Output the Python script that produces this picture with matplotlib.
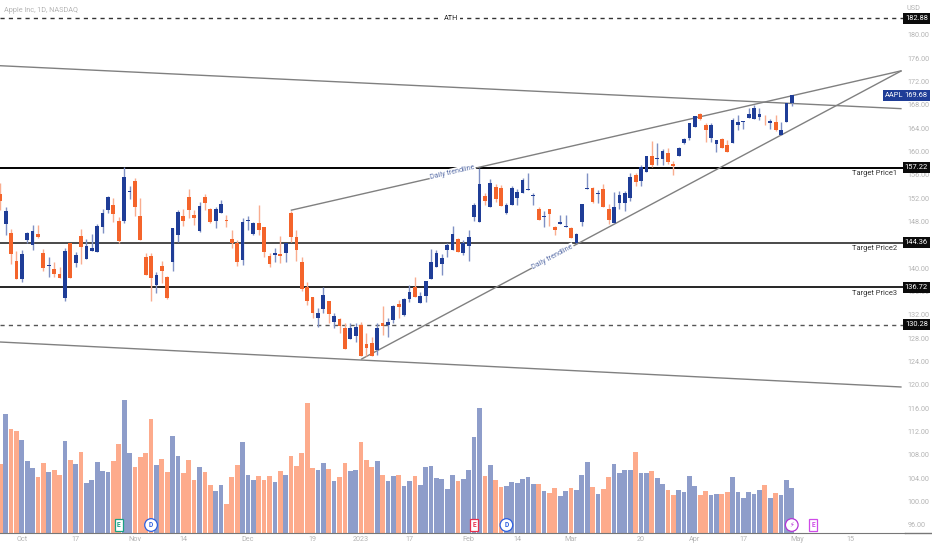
import matplotlib
matplotlib.use("Agg")
import matplotlib.pyplot as plt
from matplotlib.lines import Line2D

plt.rcParams['font.family'] = ['Roboto', 'DejaVu Sans']

# Daily candles
opens = [152.72, 147.52, 146.09, 141.23, 138.08, 144.83, 143.92, 145.8, 142.54, 140.37,
         139.91, 139.06, 134.94, 144.37, 140.94, 145.46, 141.63, 142.94, 142.83, 147.06,
         149.98, 150.89, 148.03, 148.03, 153.12, 155.01, 148.95, 141.97, 142.09, 137.05,
         140.37, 138.43, 141.11, 145.75, 148.95, 152.15, 149.06, 146.38, 152.26, 150.09,
         148.03, 149.41, 148.26, 145.06, 144.26, 141.34, 148.15, 145.8, 147.75, 147.06,
         142.09, 142.26, 142.37, 142.6, 149.41, 145.29, 141.06, 136.71, 135.11, 131.39,
         132.94, 134.37, 130.82, 131.28, 129.68, 127.91, 128.36, 130.25, 126.93, 127.22,
         125.96, 130.54, 130.25, 131.11, 133.85, 131.97, 134.77, 136.71, 133.97, 135.28,
         138.08, 140.26, 140.77, 143.12, 143.12, 144.95, 142.54, 143.8, 148.72, 147.92,
         152.44, 150.55, 153.87, 153.75, 149.41, 150.83, 151.98, 152.95, 153.41, 152.44,
         150.15, 148.78, 150.09, 147.06, 147.58, 147.0, 146.83, 144.37, 147.92, 153.52,
         153.69, 152.66, 153.53, 150.16, 147.7, 151.13, 151.13, 151.99, 155.99, 154.96,
         156.5, 159.19, 158.68, 158.79, 159.76, 157.88, 159.25, 161.42, 162.28, 164.22,
         166.45, 164.62, 162.28, 161.25, 162.16, 161.08, 161.48, 164.51, 165.02, 165.82,
         165.59, 165.94, 164.97, 164.97, 165.08, 162.91, 165.02, 168.28]
closes = [151.58, 149.75, 142.37, 138.08, 142.37, 146.09, 146.32, 145.29, 139.97, 140.49,
          138.94, 138.26, 142.94, 138.26, 142.32, 143.69, 143.8, 143.4, 147.23, 149.46,
          152.26, 149.29, 144.66, 155.58, 153.29, 150.55, 144.89, 138.83, 138.31, 138.83,
          139.46, 134.83, 146.83, 149.63, 148.15, 149.92, 148.66, 150.66, 151.24, 147.86,
          150.09, 151.01, 148.03, 144.26, 141.11, 147.98, 148.32, 147.8, 146.55, 142.83,
          140.77, 142.66, 142.14, 144.26, 145.4, 143.06, 136.43, 134.31, 132.37, 132.25,
          135.4, 132.14, 131.85, 130.02, 126.08, 129.68, 129.96, 124.93, 126.31, 124.99,
          129.68, 130.14, 130.71, 133.51, 133.4, 134.77, 135.91, 135.11, 135.23, 137.86,
          141.06, 142.54, 141.8, 143.92, 145.92, 142.83, 144.32, 145.35, 150.83, 154.49,
          151.58, 154.55, 151.81, 150.72, 150.83, 153.75, 153.12, 155.18, 153.64, 152.61,
          148.32, 148.89, 149.29, 146.55, 147.86, 147.29, 145.17, 145.86, 151.01, 153.69,
          151.41, 152.84, 150.44, 148.33, 150.44, 152.5, 152.9, 155.7, 154.84, 157.36,
          159.19, 157.65, 158.9, 160.16, 158.22, 157.59, 160.62, 162.22, 164.85, 166.11,
          165.54, 163.65, 164.57, 161.94, 160.68, 159.99, 165.48, 165.14, 165.19, 166.4,
          167.54, 166.51, 164.91, 165.25, 163.65, 163.71, 168.28, 169.68]
highs = [154.67, 150.55, 146.66, 143.0, 143.12, 146.26, 147.35, 147.46, 143.23, 141.86,
         141.11, 140.26, 143.52, 144.37, 142.77, 146.66, 144.95, 145.86, 147.58, 150.09,
         152.38, 151.98, 148.83, 157.41, 154.09, 155.41, 151.98, 142.66, 142.54, 139.4,
         141.29, 138.66, 146.83, 149.98, 150.09, 153.52, 149.98, 151.41, 152.72, 150.26,
         150.55, 151.69, 149.12, 146.55, 144.83, 148.66, 148.95, 147.98, 150.83, 147.06,
         142.54, 143.4, 145.52, 144.37, 149.86, 146.55, 141.86, 137.68, 135.11, 133.11,
         136.71, 134.37, 132.25, 131.39, 130.54, 130.54, 130.54, 130.82, 128.94, 128.25,
         130.54, 133.51, 131.39, 133.68, 134.54, 134.94, 137.11, 138.54, 135.97, 137.86,
         143.23, 143.12, 142.43, 144.37, 147.23, 145.12, 144.83, 146.55, 151.12, 157.12,
         152.95, 155.24, 154.38, 154.27, 151.24, 154.09, 153.52, 155.41, 156.27, 152.95,
         150.55, 149.86, 150.09, 147.23, 149.12, 149.12, 147.0, 145.97, 151.01, 156.27,
         153.87, 153.41, 154.39, 150.96, 153.13, 153.3, 153.3, 156.39, 156.39, 157.7,
         159.19, 161.88, 161.42, 160.39, 160.56, 158.45, 160.85, 162.28, 164.97, 166.11,
         166.68, 164.97, 164.97, 161.94, 162.28, 161.99, 165.71, 166.28, 165.19, 167.42,
         168.0, 167.42, 166.28, 165.54, 166.28, 165.14, 168.28, 169.68]
lows = [149.98, 145.63, 140.71, 138.08, 137.68, 144.37, 143.12, 145.12, 139.46, 138.54,
        138.43, 138.26, 134.43, 138.26, 140.26, 140.71, 141.63, 142.94, 142.83, 146.09,
        149.52, 147.98, 144.26, 147.8, 151.92, 149.01, 144.89, 138.83, 134.43, 135.68,
        137.51, 134.65, 139.57, 144.55, 147.23, 148.55, 147.35, 146.26, 149.98, 147.8,
        146.89, 149.41, 147.0, 143.4, 140.37, 140.6, 146.55, 145.69, 145.69, 141.97,
        140.14, 141.06, 140.83, 141.11, 144.55, 141.17, 136.14, 133.68, 131.39, 129.96,
        132.25, 130.54, 129.68, 128.82, 126.08, 127.91, 127.39, 124.93, 124.93, 124.99,
        125.1, 128.54, 128.14, 130.54, 131.39, 131.85, 134.25, 135.11, 133.97, 134.25,
        138.08, 140.14, 138.83, 141.97, 143.12, 142.83, 142.26, 141.29, 148.15, 147.92,
        150.83, 150.55, 151.41, 150.72, 149.29, 150.83, 150.83, 152.95, 153.41, 150.83,
        148.32, 147.12, 147.23, 145.69, 147.58, 147.0, 145.17, 144.26, 147.23, 153.52,
        151.12, 151.12, 150.44, 147.58, 147.7, 150.1, 149.87, 151.59, 154.1, 154.1,
        156.5, 157.42, 157.65, 157.7, 157.88, 155.99, 159.25, 161.31, 161.99, 164.17,
        165.42, 161.71, 161.71, 159.99, 160.56, 159.88, 161.42, 163.71, 163.88, 165.71,
        165.54, 165.42, 164.57, 163.82, 163.54, 162.79, 165.02, 167.82]

# Volume, no scale on the chart so the units are arbitrary
volumes = [207, 357, 312, 305, 280, 215, 195, 168, 210, 184, 190, 173, 276, 218, 208, 243,
           151, 158, 212, 186, 184, 217, 267, 400, 240, 197, 228, 239, 343, 205, 221, 184,
           291, 230, 181, 220, 160, 197, 184, 144, 127, 144, 87, 169, 205, 273, 175, 160,
           170, 160, 172, 153, 186, 173, 231, 202, 241, 390, 196, 190, 210, 192, 157, 169,
           210, 186, 190, 274, 219, 198, 216, 173, 157, 172, 175, 142, 157, 172, 144, 197,
           201, 165, 163, 133, 173, 157, 163, 190, 289, 376, 172, 205, 160, 138, 142, 153,
           151, 163, 168, 146, 146, 125, 120, 136, 111, 125, 136, 130, 173, 214, 138, 117,
           133, 168, 207, 181, 190, 188, 242, 180, 180, 186, 166, 146, 130, 114, 128, 122,
           170, 140, 114, 127, 113, 118, 118, 124, 168, 122, 104, 124, 118, 130, 144, 104,
           120, 113, 160, 136]

price_ticks = list(range(96, 184, 4))
date_pos = [4, 14, 25, 34, 46, 58, 67, 76, 87, 96, 106, 119, 129, 138, 148, 158]
date_labels = ['Oct', '17', 'Nov', '14', 'Dec', '19', '2023', '17', 'Feb', '14',
               'Mar', '20', 'Apr', '17', 'May', '15']

# Trend lines: (x0, x1), (price0, price1)
channel_top = ((-0.06, 167.4), (174.73, 167.36))
channel_low = ((-0.06, 167.4), (127.34, 119.62))
trend_up = ((53.94, 167.4), (149.93, 173.87))
trend_low = ((67.0, 167.4), (124.37, 173.87))

# Horizontal levels
ath = 182.88
targets = [157.22, 144.36, 136.72]
target_names = ['Target Price1', 'Target Price2', 'Target Price3']
support = 130.28
last_price = 169.68

BLUE = '#1f3d97'
ORANGE = '#f4642b'
BLUE_WICK = '#7f90c4'
ORANGE_WICK = '#f9ad8f'
BLUE_VOL = '#8e9dca'
ORANGE_VOL = '#fdab8c'
TICK_GREY = '#b4b4b4'

fig = plt.figure(figsize=(9.32, 5.5), dpi=100)
ax = fig.add_axes([0, 17 / 550, 905 / 932, 533 / 550])
ax_vol = ax.twinx()
ax.set_zorder(ax_vol.get_zorder() + 1)
ax.patch.set_visible(False)

x = list(range(len(closes)))
up = [c >= o for o, c in zip(opens, closes)]

# Volume bars at the bottom
ax_vol.bar(x, volumes, width=0.88, linewidth=0,
           color=[BLUE_VOL if u else ORANGE_VOL for u in up])
ax_vol.set_ylim(0, 1599)
ax_vol.axis('off')

# Levels and trend lines
ax.axhline(ath, color='#333333', lw=1, ls=(0, (3, 3)), zorder=1)
ax.axhline(targets[0], color='black', lw=1.4, zorder=1)
ax.axhline(targets[1], color='#3a3a3a', lw=1.3, zorder=1)
ax.axhline(targets[2], color='black', lw=1.2, zorder=1)
ax.axhline(support, color='#555555', lw=1, ls=(0, (3, 3)), zorder=1)
for xs, ys in [channel_top, channel_low, trend_up, trend_low]:
    ax.plot(xs, ys, color='#808080', lw=1, zorder=1, solid_capstyle='butt')

# Candles
ax.vlines(x, lows, highs, lw=1, zorder=2,
          colors=[BLUE_WICK if u else ORANGE_WICK for u in up])
ax.bar(x, [c - o for o, c in zip(opens, closes)], bottom=opens, width=0.7, linewidth=0,
       color=[BLUE if u else ORANGE for u in up], zorder=3)

ax.set_xlim(-0.056, 168.03)
ax.set_ylim(94.58, 186)
for side in ['top', 'left', 'right']:
    ax.spines[side].set_visible(False)
ax.spines['bottom'].set_color('#777777')

ax.yaxis.tick_right()
ax.set_yticks(price_ticks, [f'{p:.2f}' for p in price_ticks])
ax.tick_params(axis='y', length=0, pad=2, labelsize=5.2, labelcolor=TICK_GREY)
ax.set_xticks(date_pos, date_labels)
ax.tick_params(axis='x', length=0, pad=2.5, labelsize=5.2, labelcolor=TICK_GREY)

fig.add_artist(Line2D([905 / 932, 1], [17 / 550, 17 / 550], color='#777777', lw=1))

# Text on the chart
fig.text(4 / 932, 1 - 10 / 550, 'Apple Inc, 1D, NASDAQ', fontsize=5.2, color=TICK_GREY,
         va='center')
fig.text(913 / 932, 1 - 8 / 550, 'USD', fontsize=5.2, color=TICK_GREY, ha='center', va='center')

ax.text(83.7, ath, 'ATH', fontsize=5.2, color='#222222', ha='center', va='center', zorder=4,
        bbox=dict(fc='white', ec='none', pad=1.5))
for level, name in zip(targets, target_names):
    ax.text(166.6, level - 1.05, name, fontsize=5.4, color='#333333', ha='right', va='center')

ax.text(84.0, 156.4, 'Daily trendline', fontsize=5.2, color='#5a6fa8', ha='center', va='center',
        rotation=13, zorder=4, bbox=dict(fc='white', ec='none', pad=0.6))
ax.text(102.6, 141.9, 'Daily trendline', fontsize=5.2, color='#5a6fa8', ha='center', va='center',
        rotation=28, zorder=4, bbox=dict(fc='white', ec='none', pad=0.6))

# Price tags on the right
trans = ax.get_yaxis_transform()
for level in [ath] + targets + [support]:
    ax.text(1.0125, level, f'{level:.2f}', transform=trans, fontsize=5.4, color='white',
            ha='center', va='center', clip_on=False, zorder=5,
            bbox=dict(boxstyle='square,pad=0.25', fc='#0b0b0b', ec='none'))
ax.text(0.988, last_price, 'AAPL', transform=trans, fontsize=5.4, color='white', ha='center',
        va='center', clip_on=False, zorder=5,
        bbox=dict(boxstyle='square,pad=0.25', fc=BLUE, ec='none'))
ax.text(1.0125, last_price, f'{last_price:.2f}', transform=trans, fontsize=5.4, color='white',
        ha='center', va='center', clip_on=False, zorder=5,
        bbox=dict(boxstyle='square,pad=0.25', fc=BLUE, ec='none'))

# Earnings / dividend markers along the bottom
marker_y = 95.95
markers = [(22, 'E', '#19a184', 'square'), (28, 'D', '#2d5fe0', 'circle'),
           (88, 'E', '#e8304d', 'square'), (94, 'D', '#2d5fe0', 'circle'),
           (147, '\u26a1', '#b534d6', 'circle'), (151, 'E', '#cf4be8', 'square')]
for pos, letter, col, shape in markers:
    ax.text(pos, marker_y, letter, fontsize=4.8, color=col, ha='center', va='center', zorder=5,
            fontweight='bold',
            bbox=dict(boxstyle=f'{shape},pad=0.35', fc='white', ec=col, lw=0.9))

fig.savefig('out.png', dpi=100)
